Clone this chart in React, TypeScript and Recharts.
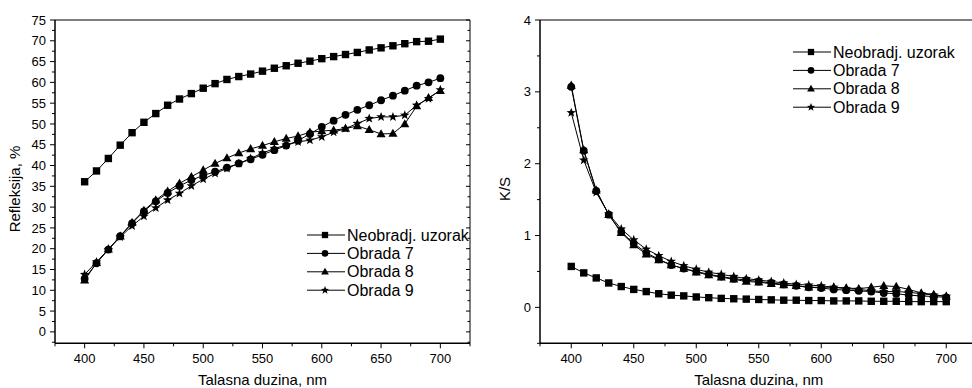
import React from "react";
import { LineChart, Line, XAxis, YAxis, Legend, Label } from "recharts";

// wavelength, nm
const WAVELENGTH = [
  400, 410, 420, 430, 440, 450, 460, 470, 480, 490, 500, 510, 520, 530, 540, 550,
  560, 570, 580, 590, 600, 610, 620, 630, 640, 650, 660, 670, 680, 690, 700,
];

// reflectance, %
const REFL_NEO = [
  36.1, 38.7, 41.7, 44.9, 47.9, 50.4, 52.5, 54.5, 56.0, 57.3, 58.6, 59.7, 60.7, 61.4, 62.0, 62.7,
  63.4, 64.0, 64.6, 65.1, 65.7, 66.2, 66.7, 67.2, 67.8, 68.3, 68.8, 69.3, 69.8, 69.9, 70.4,
];
const REFL_O7 = [
  12.8, 16.5, 19.8, 23.0, 26.1, 29.0, 31.4, 33.4, 35.1, 36.5, 37.6, 38.5, 39.5, 40.5, 41.5, 42.6,
  43.7, 44.8, 46.0, 47.6, 49.3, 50.8, 52.2, 53.4, 54.5, 55.7, 56.8, 58.0, 59.2, 60.0, 61.0,
];
const REFL_O8 = [
  12.4, 16.6, 19.9, 23.0, 26.3, 29.2, 31.7, 33.8, 35.7, 37.3, 38.9, 40.5, 41.8, 43.0, 44.0, 44.8,
  45.7, 46.5, 47.1, 48.0, 48.3, 48.5, 48.9, 49.5, 48.6, 47.6, 47.7, 50.0, 54.3, 56.3, 58.0,
];
const REFL_O9 = [
  13.8, 16.8, 19.8, 22.8, 25.5, 27.8, 29.8, 31.7, 33.3, 35.1, 36.7, 38.1, 39.3, 40.5, 41.7, 43.0,
  44.1, 44.9, 45.7, 46.1, 46.9, 48.0, 48.9, 50.1, 51.3, 51.7, 51.7, 52.1, 54.5, 56.1, 58.2,
];

// K/S
const KS_NEO = [
  0.57, 0.48, 0.41, 0.34, 0.29, 0.25, 0.22, 0.19, 0.17, 0.16, 0.145, 0.135, 0.125, 0.12, 0.115, 0.11,
  0.105, 0.1, 0.1, 0.095, 0.095, 0.09, 0.09, 0.09, 0.085, 0.085, 0.085, 0.08, 0.08, 0.08, 0.08,
];
const KS_O7 = [
  3.07, 2.18, 1.62, 1.29, 1.05, 0.89, 0.76, 0.67, 0.59, 0.54, 0.5, 0.46, 0.43, 0.4, 0.38, 0.36,
  0.34, 0.32, 0.3, 0.28, 0.27, 0.25, 0.24, 0.23, 0.22, 0.2, 0.19, 0.17, 0.16, 0.15, 0.14,
];
const KS_O8 = [
  3.09, 2.19, 1.63, 1.29, 1.04, 0.87, 0.74, 0.66, 0.59, 0.54, 0.49, 0.45, 0.42, 0.39, 0.36, 0.35,
  0.33, 0.31, 0.3, 0.28, 0.28, 0.28, 0.27, 0.26, 0.28, 0.3, 0.29, 0.25, 0.2, 0.18, 0.15,
];
const KS_O9 = [
  2.71, 2.05, 1.6, 1.3, 1.09, 0.94, 0.81, 0.72, 0.64, 0.58, 0.53, 0.49, 0.46, 0.43, 0.4, 0.38,
  0.36, 0.34, 0.32, 0.31, 0.3, 0.28, 0.26, 0.25, 0.23, 0.22, 0.22, 0.21, 0.19, 0.17, 0.155,
];

const SERIES_NAMES = ["Neobradj. uzorak", "Obrada 7", "Obrada 8", "Obrada 9"];
const SERIES_KEYS = ["neo", "o7", "o8", "o9"];
const SHAPES = ["square", "circle", "triangle", "star"];

const X_TICKS = [375, 400, 425, 450, 475, 500, 525, 550, 575, 600, 625, 650, 675, 700, 725];
const X_MAJOR = [400, 450, 500, 550, 600, 650, 700];
const REFL_TICKS = [
  -2.5, 0, 2.5, 5, 7.5, 10, 12.5, 15, 17.5, 20, 22.5, 25, 27.5, 30, 32.5, 35, 37.5, 40, 42.5,
  45, 47.5, 50, 52.5, 55, 57.5, 60, 62.5, 65, 67.5, 70, 72.5, 75,
];
const REFL_MAJOR = [0, 5, 10, 15, 20, 25, 30, 35, 40, 45, 50, 55, 60, 65, 70, 75];
const KS_TICKS = [-0.5, 0, 0.5, 1, 1.5, 2, 2.5, 3, 3.5, 4];
const KS_MAJOR = [0, 1, 2, 3, 4];

const FONT = "Arial, 'Liberation Sans', sans-serif";

const reflData = WAVELENGTH.map((w, i) => ({
  w, neo: REFL_NEO[i], o7: REFL_O7[i], o8: REFL_O8[i], o9: REFL_O9[i],
}));
const ksData = WAVELENGTH.map((w, i) => ({
  w, neo: KS_NEO[i], o7: KS_O7[i], o8: KS_O8[i], o9: KS_O9[i],
}));

function Marker({ shape, cx, cy, s = 1 }: { shape: string; cx: number; cy: number; s?: number }) {
  if (cx == null || cy == null) return null;
  if (shape === "square") {
    const h = 3.7 * s;
    return <rect x={cx - h} y={cy - h} width={2 * h} height={2 * h} fill="#000" />;
  }
  if (shape === "circle") return <circle cx={cx} cy={cy} r={3.9 * s} fill="#000" />;
  if (shape === "triangle") {
    const r = 4.8 * s;
    return <path d={`M${cx},${cy - r}L${cx + r * 0.95},${cy + r * 0.68}L${cx - r * 0.95},${cy + r * 0.68}Z`} fill="#000" />;
  }
  const pts: string[] = [];
  for (let k = 0; k < 10; k++) {
    const rad = (k % 2 === 0 ? 5 : 2.1) * s;
    const a = -Math.PI / 2 + (k * Math.PI) / 5;
    pts.push(`${cx + rad * Math.cos(a)},${cy + rad * Math.sin(a)}`);
  }
  return <polygon points={pts.join(" ")} fill="#000" />;
}

function tickFor(side: "bottom" | "top" | "left" | "right", majors: number[]) {
  return (p: any) => {
    const v = p.payload.value;
    const major = majors.includes(v);
    const { x, y } = p;
    if (side === "bottom")
      return (
        <g>
          <line x1={x} y1={y} x2={x} y2={y + (major ? 5 : 3)} stroke="#000" />
          {major && (
            <text x={x} y={y + 19.5} textAnchor="middle" fontSize={13} fontFamily={FONT} fill="#000">{v}</text>
          )}
        </g>
      );
    if (side === "left")
      return (
        <g>
          <line x1={x} y1={y} x2={x - (major ? 5 : 3)} y2={y} stroke="#000" />
          {major && (
            <text x={x - 9} y={y + 4.6} textAnchor="end" fontSize={13} fontFamily={FONT} fill="#000">{v}</text>
          )}
        </g>
      );
    if (side === "top") return <line x1={x} y1={y} x2={x} y2={y + (major ? 4 : 2.5)} stroke="#000" />;
    return <line x1={x} y1={y} x2={x - (major ? 4 : 2.5)} y2={y} stroke="#000" />;
  };
}

function LegendBox({ payload }: any) {
  const items = payload || [];
  return (
    <svg width={180} height={80} style={{ overflow: "visible", display: "block" }}>
      {items.map((it: any, i: number) => {
        const idx = SERIES_NAMES.indexOf(it.value);
        const y = 9 + i * 18.4;
        return (
          <g key={it.value}>
            <line x1={0} y1={y} x2={38} y2={y} stroke="#000" strokeWidth={1} />
            <Marker shape={SHAPES[idx]} cx={18} cy={y} s={0.85} />
            <text x={40} y={y + 5.6} fontSize={16} fontFamily={FONT} fill="#000">{it.value}</text>
          </g>
        );
      })}
    </svg>
  );
}

function Panel({ data, yDomain, yTicks, yMajor, yTitle, width, margin, legendPos }: any) {
  return (
    <LineChart width={width} height={388} data={data} margin={margin}>
      <XAxis
        dataKey="w" type="number" domain={[375, 725]} ticks={X_TICKS} interval={0}
        height={1} tickSize={0} tickMargin={0} tickLine={false}
        tick={tickFor("bottom", X_MAJOR)} axisLine={{ stroke: "#000", strokeWidth: 1.5 }}
        allowDataOverflow
      >
        <Label
          content={(p: any) => (
            <text x={p.viewBox.x + p.viewBox.width / 2} y={385} textAnchor="middle" fontSize={15} fontFamily={FONT} fill="#000">
              Talasna duzina, nm
            </text>
          )}
        />
      </XAxis>
      <XAxis
        xAxisId="top" orientation="top" type="number" domain={[375, 725]} ticks={X_TICKS} interval={0}
        height={1} tickSize={0} tickMargin={0} tickLine={false}
        tick={tickFor("top", X_MAJOR)} axisLine={{ stroke: "#000", strokeWidth: 1 }}
        allowDataOverflow
      />
      <YAxis
        type="number" domain={yDomain} ticks={yTicks} interval={0}
        width={1} tickSize={0} tickMargin={0} tickLine={false}
        tick={tickFor("left", yMajor)} axisLine={{ stroke: "#000", strokeWidth: 1.5 }}
        allowDataOverflow
      >
        <Label
          content={(p: any) => {
            const cx = p.viewBox.x + p.viewBox.width - yTitle.dx;
            const cy = 189;
            return (
              <text x={cx} y={cy} transform={`rotate(-90 ${cx} ${cy})`} textAnchor="middle" dominantBaseline="central" fontSize={15} fontFamily={FONT} fill="#000">
                {yTitle.text}
              </text>
            );
          }}
        />
      </YAxis>
      <YAxis
        yAxisId="right" orientation="right" type="number" domain={yDomain} ticks={yTicks} interval={0}
        width={1} tickSize={0} tickMargin={0} tickLine={false}
        tick={tickFor("right", yMajor)} axisLine={{ stroke: "#000", strokeWidth: 1 }}
        allowDataOverflow
      />
      <Legend
        layout="vertical" align="center" verticalAlign="middle"
        content={<LegendBox />}
        wrapperStyle={{ left: legendPos.left, top: legendPos.top, width: 180, height: 80 }}
      />
      {SERIES_KEYS.map((k, i) => (
        <Line
          key={k}
          dataKey={k}
          name={SERIES_NAMES[i]}
          stroke="#000"
          strokeWidth={1}
          isAnimationActive={false}
          dot={(p: any) => <Marker key={`${k}-${p.index}`} shape={SHAPES[i]} cx={p.cx} cy={p.cy} />}
          activeDot={false}
        />
      ))}
    </LineChart>
  );
}

export default function App() {
  return (
    <div style={{ position: "absolute", left: 0, top: 0, width: 972, height: 388, overflow: "hidden", background: "#fff" }}>
      <div style={{ position: "absolute", left: 0, top: 0 }}>
        <Panel
          data={reflData}
          yDomain={[-2.75, 75]}
          yTicks={REFL_TICKS}
          yMajor={REFL_MAJOR}
          yTitle={{ text: "Refleksija, %", dx: 41 }}
          width={480}
          margin={{ top: 19, right: 9, bottom: 43.7, left: 54 }}
          legendPos={{ left: 307, top: 226 }}
        />
      </div>
      <div style={{ position: "absolute", left: 480, top: 0 }}>
        <Panel
          data={ksData}
          yDomain={[-0.5, 4]}
          yTicks={KS_TICKS}
          yMajor={KS_MAJOR}
          yTitle={{ text: "K/S", dx: 36 }}
          width={510}
          margin={{ top: 19, right: 11.5, bottom: 43.7, left: 59 }}
          legendPos={{ left: 312.7, top: 43.3 }}
        />
      </div>
    </div>
  );
}
